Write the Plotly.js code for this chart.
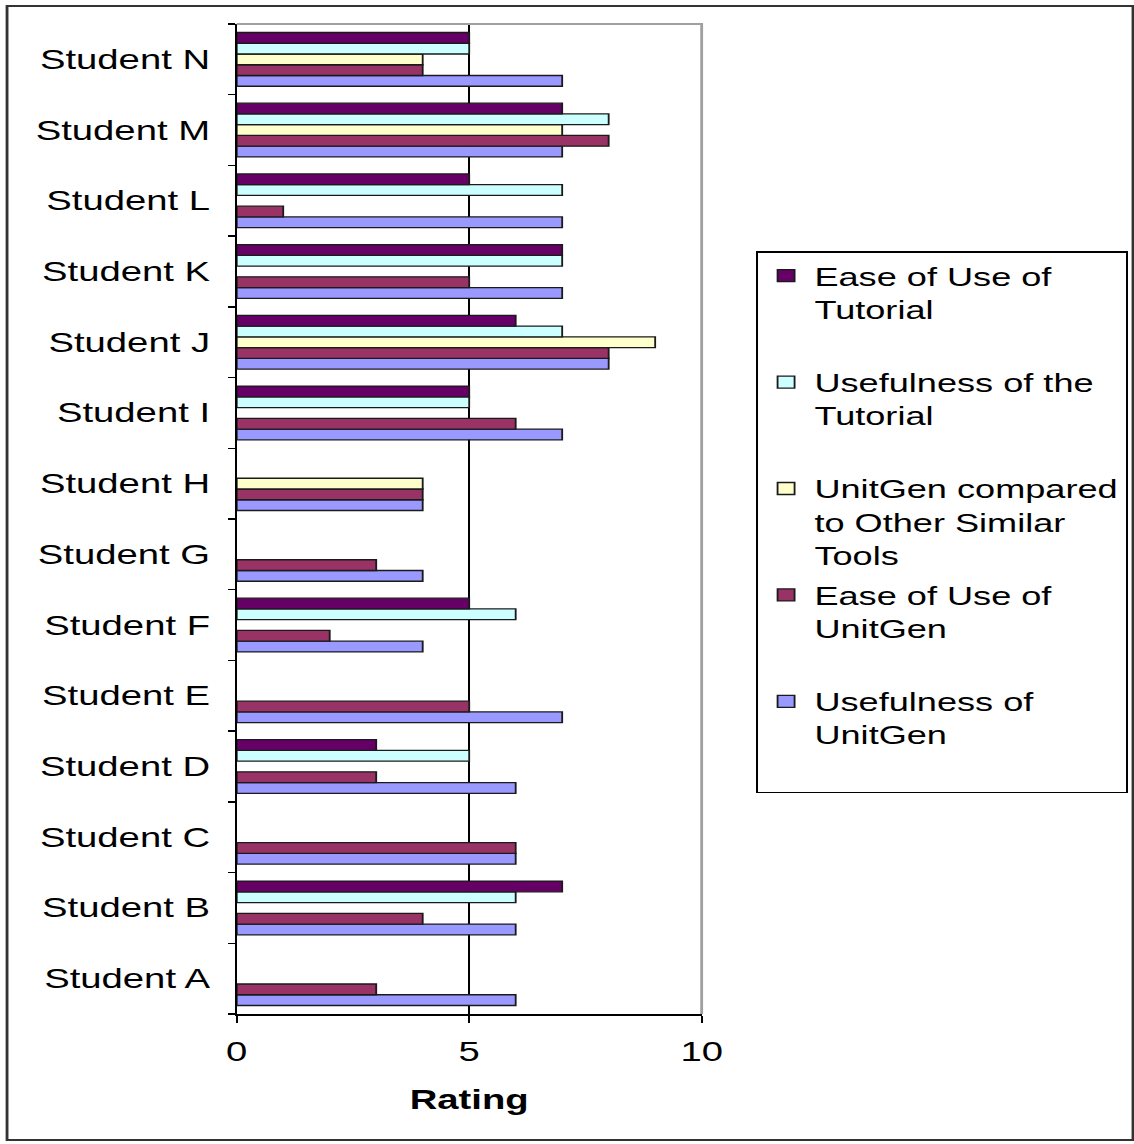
<!DOCTYPE html>
<html>
<head>
<meta charset="utf-8">
<script src="https://cdn.plot.ly/plotly-3.0.1.min.js"></script>
<style>
  html, body { margin: 0; padding: 0; background: #ffffff; overflow: hidden; }
  #chart { width: 800px; height: 1144px; transform: scaleX(1.4175); transform-origin: 0 0; }
</style>
</head>
<body>
<div id="chart"></div>
<script>
// ---- data ----
const students = ["Student A","Student B","Student C","Student D","Student E","Student F","Student G",
                  "Student H","Student I","Student J","Student K","Student L","Student M","Student N"];
const xTicks = [0, 5, 10];

const easeTutorial   = [null, 7, null, 3, null, 5, null, null, 5, 6, 7, 5, 7, 5];
const usefulTutorial = [null, 6, null, 5, null, 6, null, null, 5, 7, 7, 7, 8, 5];
const comparedTools  = [null, null, null, null, null, null, null, 4, null, 9, null, null, 7, 4];
const easeUnitGen    = [3, 4, 6, 3, 5, 2, 3, 4, 6, 8, 5, 1, 8, 4];
const usefulUnitGen  = [6, 6, 6, 6, 7, 4, 4, 4, 7, 8, 7, 7, 7, 7];

// drawn bottom-to-top within each student; legend lists them top-to-bottom
const seriesNames = [
  "Usefulness of<br>UnitGen<br> ",
  "Ease of Use of<br>UnitGen<br> ",
  "UnitGen compared<br>to Other Similar<br>Tools",
  "Usefulness of the<br>Tutorial<br> ",
  "Ease of Use of<br>Tutorial<br> "
];
const seriesValues = [usefulUnitGen, easeUnitGen, comparedTools, usefulTutorial, easeTutorial];
const seriesColors = ["#9999ff", "#993366", "#ffffcc", "#ccffff", "#660066"];
const legendRanks  = [5, 4, 3, 2, 1];

const FONT = "Liberation Sans, Arial, sans-serif";

const traces = seriesValues.map((vals, i) => ({
  type: "bar",
  orientation: "h",
  name: seriesNames[i],
  legendgroup: "g" + i,
  legendrank: legendRanks[i],
  y: students,
  x: vals,
  marker: { color: seriesColors[i], line: { color: "#1a1a1a", width: 1.3 } },
  hoverinfo: "none"
}));

const layout = {
  width: 800,
  height: 1144,
  margin: { l: 167, r: 305, t: 24, b: 130, autoexpand: false },
  paper_bgcolor: "#ffffff",
  plot_bgcolor: "#ffffff",
  barmode: "group",
  bargap: 0.24,
  bargroupgap: 0,
  font: { family: FONT, color: "#000000", size: 26 },
  showlegend: true,
  legend: {
    x: 1.116, xanchor: "left",
    y: 0.7707, yanchor: "top",
    traceorder: "grouped",
    tracegroupgap: 4,
    valign: "top",
    bgcolor: "#ffffff",
    bordercolor: "#000000",
    borderwidth: 1.5,
    font: { family: FONT, size: 25.5, color: "#000000" }
  },
  xaxis: {
    range: [0, 10],
    tickvals: xTicks,
    ticktext: xTicks.map(String),
    ticks: "outside", ticklen: 7, tickwidth: 1.4, tickcolor: "#000000",
    showline: true, linecolor: "#000000", linewidth: 2,
    showgrid: true, gridcolor: "#000000", gridwidth: 1.4,
    zeroline: false,
    ticklabelstandoff: 6,
    tickfont: { family: FONT, size: 27, color: "#000000" },
    title: { text: "<b>Rating</b>", font: { family: FONT, size: 27, color: "#000000" }, standoff: 24 },
    fixedrange: true
  },
  yaxis: {
    type: "category",
    categoryorder: "array",
    categoryarray: students,
    ticks: "outside", tickson: "boundaries", ticklen: 5, tickwidth: 1.5, tickcolor: "#000000",
    showline: true, linecolor: "#000000", linewidth: 1.4,
    showgrid: false, zeroline: false,
    ticklabelstandoff: 12,
    tickfont: { family: FONT, size: 27, color: "#000000" },
    fixedrange: true
  },
  shapes: [
    { type: "path", xref: "paper", yref: "paper", path: "M 0 1 L 1 1 L 1 0",
      line: { color: "#a0a0a0", width: 2 }, layer: "above" },
    { type: "rect", xref: "paper", yref: "paper", x0: -0.494, x1: 1.9277, y0: -0.1273, y1: 1.0182,
      line: { color: "#333333", width: 2 }, fillcolor: "rgba(0,0,0,0)", layer: "below" }
  ]
};

Plotly.newPlot("chart", traces, layout, { staticPlot: true, displayModeBar: false });
</script>
</body>
</html>
